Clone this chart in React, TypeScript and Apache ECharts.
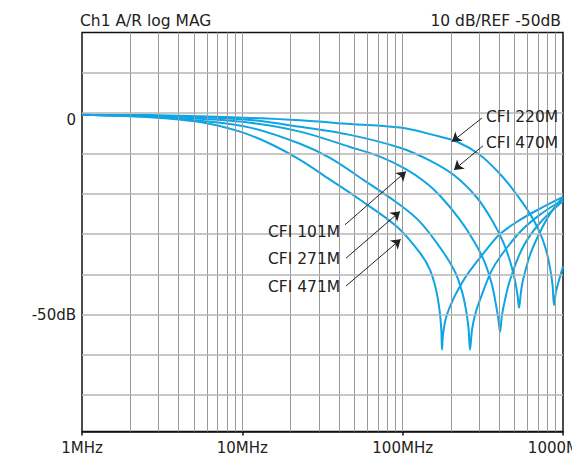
import React, { useEffect, useRef } from 'react';
import * as echarts from 'echarts';

const FONT = '"DejaVu Sans", sans-serif';
const CURVE_COLOR = '#0ea5e4';

// x: frequency (MHz), y: magnitude (dB)
const cfi220M = [[1,-0.4],[2.66,-0.5],[5.45,-0.8],[11.2,-1.2],[22.9,-1.8],[46.9,-2.7],[96.3,-3.6],[154.6,-5.4],[218.3,-7.1],[303.7,-10.4],[404.7,-15.1],[487.8,-19.0],[622.7,-25.0],[718.9,-29.7],[783.6,-33.9],[829.9,-38.4],[860.4,-42.6],[878.9,-47.6],[904.6,-44.3],[957.9,-40.6],[1000,-38.1]];
const cfi470M = [[1,-0.4],[2.66,-0.7],[5.45,-1.0],[11.2,-1.7],[22.9,-3.4],[46.9,-5.4],[96.3,-8.6],[148.1,-11.8],[212.1,-15.6],[290.9,-21.0],[365.9,-27.0],[422.5,-31.9],[467.2,-36.7],[502,-41.6],[520.3,-45.1],[531.7,-48.3],[547.2,-44.3],[563.1,-41.4],[622.7,-35.2],[718.9,-29.5],[829.9,-25.0],[1000,-20.8]];
const cfi101M = [[1,-0.4],[2.66,-0.8],[5.45,-1.4],[11.2,-2.4],[22.9,-4.6],[46.9,-8.4],[72.2,-10.8],[103.4,-13.8],[137.8,-17.1],[171,-20.5],[227.9,-26.5],[282.6,-32.2],[326.3,-37.2],[360.7,-42.6],[382.1,-47.6],[396,-51.3],[404.7,-54.3],[416.6,-50.0],[434.9,-46.3],[467.2,-41.4],[563.1,-33.2],[718.9,-27.2],[1000,-21.8]];
const cfi271M = [[1,-0.4],[2.66,-0.9],[5.45,-1.9],[11.2,-3.6],[22.9,-7.6],[35.2,-11.1],[56.6,-16.5],[96.3,-22.8],[128.3,-27.0],[178.5,-34.4],[212.1,-39.4],[234.5,-44.3],[248.3,-48.8],[257.4,-53.3],[263,-58.7],[270.7,-53.8],[282.6,-50.1],[303.7,-46.3],[355.6,-39.4],[404.7,-35.7],[539.4,-29.5],[718.9,-25.2],[1000,-21.5]];
const cfi471M = [[1,-0.4],[2.66,-1.0],[5.45,-2.2],[9.67,-4.6],[14.9,-7.6],[22.9,-11.6],[35.2,-16.5],[54.2,-21.5],[92.2,-28.2],[128.3,-34.7],[148.1,-38.9],[161.4,-43.8],[169.7,-48.8],[174.2,-53.8],[176,-58.7],[178.5,-55.0],[186.4,-50.8],[206.1,-46.3],[234.5,-42.1],[263,-39.1],[335.7,-33.7],[404.7,-30.0],[539.4,-26.5],[718.9,-23.7],[1000,-20.8]];

// annotation arrows: [start, tip] in data units
const arrow220M = [[312.6,-1.2],[203,-7.1]];
const arrow470M = [[316.9,-8.1],[209,-14.1]];
const arrow101M = [[43.7,-27.7],[104.9,-14.5]];
const arrow271M = [[44.3,-36.0],[96.3,-24.4]];
const arrow471M = [[44.3,-42.9],[97.2,-31.3]];

const verticalGrid = [2,3,4,5,6,7,8,9,10,20,30,40,50,60,70,80,90,100,200,300,400,500,600,700,800,900];
const horizontalGrid = [10,0,-10,-20,-30,-40,-50,-60,-70];
const yLabels: Record<string, string> = { '0': '0', '-50': '-50dB' };

const titleLeft = 'Ch1 A/R log MAG';
const titleRight = '10 dB/REF -50dB';

const curves = [
  { name: 'CFI 220M', data: cfi220M, arrow: arrow220M, lx: 486, ly: 116.7 },
  { name: 'CFI 470M', data: cfi470M, arrow: arrow470M, lx: 486, ly: 143.3 },
  { name: 'CFI 101M', data: cfi101M, arrow: arrow101M, lx: 268, ly: 231.7 },
  { name: 'CFI 271M', data: cfi271M, arrow: arrow271M, lx: 268, ly: 259 },
  { name: 'CFI 471M', data: cfi471M, arrow: arrow471M, lx: 268, ly: 286.7 },
];

export default function App() {
  const ref = useRef<HTMLDivElement>(null);
  useEffect(() => {
    const chart = echarts.init(ref.current!, null, { renderer: 'svg' });
    const series: any[] = [
      {
        type: 'line',
        name: 'vgrid',
        data: [],
        z: 1,
        silent: true,
        markLine: {
          silent: true,
          symbol: ['none', 'none'],
          label: { show: false },
          lineStyle: { color: '#999999', width: 1, type: 'solid' },
          data: verticalGrid.map((v) => ({ xAxis: v })),
        },
      },
      {
        type: 'line',
        name: 'hgrid',
        data: [],
        z: 1,
        silent: true,
        markLine: {
          silent: true,
          symbol: ['none', 'none'],
          lineStyle: { color: '#b4b4b4', width: 1.6, type: 'solid' },
          label: { show: false },
          data: horizontalGrid.map((v) => {
            const txt = yLabels[String(v)];
            return {
              yAxis: v,
              label: txt
                ? {
                    show: true,
                    position: 'start',
                    formatter: v === 0 ? `{p|${txt}}` : txt,
                    distance: 6,
                    color: '#222',
                    fontSize: 15,
                    fontFamily: FONT,
                    rich: { p: { padding: [14, 0, 0, 0], color: '#222', fontSize: 15, fontFamily: FONT } },
                  }
                : { show: false },
            };
          }),
        },
      },
    ];
    curves.forEach((c) => {
      series.push({
        type: 'line',
        name: c.name,
        data: c.data,
        z: 3,
        showSymbol: false,
        smooth: 0.35,
        lineStyle: { color: CURVE_COLOR, width: 2 },
        markLine: {
          silent: true,
          symbol: ['none', 'arrow'],
          symbolSize: 9,
          label: { show: false },
          lineStyle: { color: '#222', width: 1, type: 'solid' },
          data: [[{ coord: c.arrow[0] }, { coord: c.arrow[1] }]],
        },
      });
    });

    const graphics: any[] = [
      {
        type: 'text',
        x: 80,
        y: 20.7,
        style: { text: titleLeft, fill: '#222', font: `15.5px ${FONT}`, textAlign: 'left', textVerticalAlign: 'middle' },
      },
      {
        type: 'text',
        x: 561,
        y: 20.7,
        style: { text: titleRight, fill: '#222', font: `15.5px ${FONT}`, textAlign: 'right', textVerticalAlign: 'middle' },
      },
      ...curves.map((c) => ({
        type: 'text',
        x: c.lx,
        y: c.ly,
        z: 10,
        style: { text: c.name, fill: '#222', font: `15.5px ${FONT}`, textAlign: 'left', textVerticalAlign: 'middle' },
      })),
    ];

    chart.setOption({
      animation: false,
      backgroundColor: '#fff',
      grid: {
        left: 82,
        top: 32.5,
        right: 9,
        bottom: 24.5,
        show: true,
        borderColor: '#111',
        borderWidth: 1.5,
        backgroundColor: 'transparent',
        containLabel: false,
        outerBoundsMode: 'none',
      },
      xAxis: {
        type: 'log',
        logBase: 10,
        min: 1,
        max: 1000,
        axisLine: { show: true, onZero: false, lineStyle: { color: '#111', width: 1.5 } },
        axisTick: { show: true, length: 4, inside: false, lineStyle: { color: '#111', width: 1.5 } },
        axisLabel: {
          show: true,
          margin: 9,
          color: '#222',
          fontSize: 15,
          fontFamily: FONT,
          showMinLabel: true,
          showMaxLabel: true,
          hideOverlap: false,
          formatter: (v: number) => `${Math.round(v)}MHz`,
        },
        splitLine: { show: false },
        minorTick: { show: false },
      },
      yAxis: {
        type: 'value',
        min: -79,
        max: 20,
        axisLine: { show: false, onZero: false },
        axisTick: { show: false },
        axisLabel: { show: false },
        splitLine: { show: false },
      },
      graphic: graphics,
      series,
    });
    return () => chart.dispose();
  }, []);
  return <div ref={ref} style={{ position: 'absolute', left: 0, top: 0, width: 572, height: 456 }} />;
}
